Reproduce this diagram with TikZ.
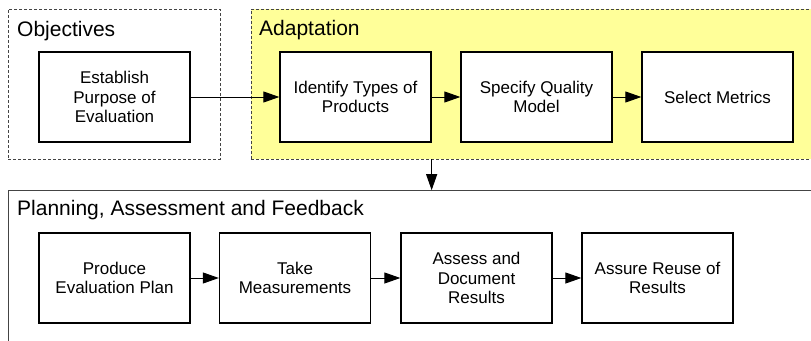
\documentclass[tikz,border=0pt]{standalone}
\usepackage{fontspec}
\setmainfont{Liberation Sans}
\usetikzlibrary{arrows.meta}
\definecolor{adaptyellow}{HTML}{FFFF99}
\definecolor{grpline}{HTML}{444444}
\begin{document}
\begin{tikzpicture}[x=1pt,y=-1pt,
 proc/.style={draw=black, line width=1.3pt, fill=white, minimum width=151pt, minimum height=90pt, inner sep=0pt, align=center, font=\fontsize{17}{19.8}\selectfont},
 grp/.style={draw=grpline, dash pattern=on 3pt off 2pt, line width=0.9pt, inner sep=0pt},
 ttl/.style={anchor=west, inner sep=0pt, font=\fontsize{21}{24}\selectfont},
 flow/.style={-{Triangle[length=16pt,width=11pt]}, line width=1pt}]
\useasboundingbox (0,0) rectangle (811,340);
\clip (0,0) rectangle (811,340);
% containers
\node[grp, minimum width=212pt, minimum height=150pt] (obj) at (114,84) {};
\node[grp, fill=adaptyellow, minimum width=564pt, minimum height=150pt] (adapt) at (533,84) {};
\node[draw=grpline, line width=1pt, inner sep=0pt, minimum width=806.5pt, minimum height=154pt] (plan) at (411.75,267.7) {};
% titles
\node[ttl] (objt) at (17,31) {Objectives};
\node[ttl] (adaptt) at (259,30) {Adaptation};
\node[ttl] (plant) at (17,210) {Planning, Assessment and Feedback};
% process boxes
\node[proc] (est) at (114.5,97) {Establish\\Purpose of\\Evaluation};
\node[proc] (idt) at (355.5,97) {Identify Types of\\Products};
\node[proc] (spq) at (536.5,97) {Specify Quality\\Model};
\node[proc] (sel) at (717.5,97) {Select Metrics};
\node[proc] (pep) at (114.5,278) {Produce\\Evaluation Plan};
\node[proc] (tkm) at (295,278) {Take\\Measurements};
\node[proc] (adr) at (476.5,278) {Assess and\\Document\\Results};
\node[proc] (arr) at (657.5,278) {Assure Reuse of\\Results};
% connectors
\draw[flow] (est) -- (idt);
\draw[flow] (idt) -- (spq);
\draw[flow] (spq) -- (sel);
\draw[flow] (pep) -- (tkm);
\draw[flow] (tkm) -- (adr);
\draw[flow] (adr) -- (arr);
\draw[flow] (idt.east |- adapt.south) -- (idt.east |- plan.north);
\end{tikzpicture}
\end{document}
